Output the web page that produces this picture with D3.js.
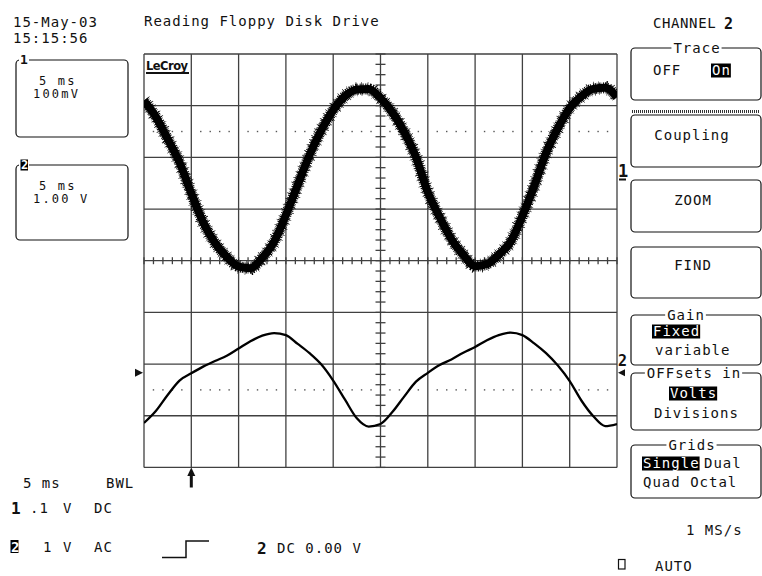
<!DOCTYPE html>
<html><head><meta charset="utf-8">
<script src="https://cdn.jsdelivr.net/npm/d3@7"></script>
<style>
html,body{margin:0;padding:0;background:#fff;}
svg{display:block;}
text{font-family:"DejaVu Sans Mono",monospace;font-size:14px;fill:#111;letter-spacing:1px;}
</style></head><body>
<svg id="scope" width="762" height="576"></svg>
<script>
// ---- acquisition: sample times (ms) and channel voltages (V) ----
const timesMs = [0,1.25,2.5,3.75,5,6.25,7.5,8.75,10,11.25,12.5,13.75,15,16.25,17.5,18.75,20,21.25,22.5,23.75,25,
  26.25,27.5,28.75,30,31.25,32.5,33.75,35,36.25,37.5,38.75,40,41.25,42.5,43.75,45,46.25,47.5,48.75,50];
const ch1Volts = [0.152,0.121,0.078,0.033,-0.027,-0.083,-0.123,-0.150,-0.169,-0.172,-0.152,-0.121,-0.069,-0.011,
  0.047,0.095,0.134,0.161,0.174,0.175,0.157,0.130,0.092,0.043,-0.025,-0.073,-0.116,-0.146,-0.168,-0.164,-0.146,
  -0.121,-0.071,-0.013,0.051,0.099,0.138,0.161,0.175,0.177,0.159];
const ch2Volts = [-0.97,-0.74,-0.43,-0.15,-0.01,0.12,0.23,0.33,0.47,0.61,0.72,0.77,0.73,0.56,0.38,0.16,-0.15,
  -0.52,-0.88,-1.04,-0.99,-0.76,-0.46,-0.17,0.00,0.15,0.26,0.39,0.50,0.63,0.73,0.78,0.73,0.57,0.38,0.14,-0.16,
  -0.54,-0.84,-1.03,-0.99];

// channel settings: volts per division and ground position in divisions from centre
const ch1VPerDiv = 0.1, ch1GroundDiv = 1.575;
const ch2VPerDiv = 1.0, ch2GroundDiv = -2.17;
const timePerDivMs = 5;
const hDivs = [0,1,2,3,4,5,6,7,8,9,10];
const vDivs = [-4,-3,-2,-1,0,1,2,3,4];
const cursorDivs = [2.5,-2.5];
const triggerTimeMs = 5;

// ---- screen texts ----
const dateLines = ["15-May-03","15:15:56"];
const titleText = "Reading Floppy Disk Drive";
const menuTitle = "CHANNEL";
const menuChannel = "2";

const svg = d3.select("#scope");
const ink = "#111";
const gridInk = "#404040";
const plot = {left:144, right:617, top:54, bottom:467.4};

const x = d3.scaleLinear().domain([0, 10*timePerDivMs]).range([plot.left, plot.right]);
const div = d3.scaleLinear().domain([-4, 4]).range([plot.bottom, plot.top]);
const y1 = d3.scaleLinear().domain([(-4-ch1GroundDiv)*ch1VPerDiv, (4-ch1GroundDiv)*ch1VPerDiv]).range([plot.bottom, plot.top]);
const y2 = d3.scaleLinear().domain([(-4-ch2GroundDiv)*ch2VPerDiv, (4-ch2GroundDiv)*ch2VPerDiv]).range([plot.bottom, plot.top]);

// ---- graticule ----
const grid = svg.append("g");
grid.selectAll("line.v").data(hDivs).join("line").attr("class","v")
  .attr("x1", d => x(d*timePerDivMs)).attr("x2", d => x(d*timePerDivMs))
  .attr("y1", plot.top).attr("y2", plot.bottom)
  .attr("stroke", gridInk).attr("stroke-width", 1.3);
grid.selectAll("line.h").data(vDivs).join("line").attr("class","h")
  .attr("x1", plot.left).attr("x2", plot.right)
  .attr("y1", d => div(d)).attr("y2", d => div(d))
  .attr("stroke", gridInk).attr("stroke-width", 1.3);

// minor ticks along the centre cross
const minorT = x.ticks(50);
grid.selectAll("line.tx").data(minorT).join("line").attr("class","tx")
  .attr("x1", d => x(d)).attr("x2", d => x(d))
  .attr("y1", div(0)-3.5).attr("y2", div(0)+3.5)
  .attr("stroke", gridInk).attr("stroke-width", 1.3);
const minorD = div.ticks(40);
grid.selectAll("line.ty").data(minorD).join("line").attr("class","ty")
  .attr("x1", x(25)-5).attr("x2", x(25)+5)
  .attr("y1", d => div(d)).attr("y2", d => div(d))
  .attr("stroke", gridInk).attr("stroke-width", 1.3);

// dotted cursor lines
const dotT = minorT.filter(t => t % timePerDivMs !== 0);
cursorDivs.forEach(cd => {
  grid.append("g").selectAll("rect").data(dotT).join("rect")
    .attr("x", d => x(d)-0.7).attr("y", div(cd)-0.7)
    .attr("width", 1.4).attr("height", 1.4).attr("fill", "#555");
});

// ---- traces ----
svg.append("clipPath").attr("id","screen").append("rect")
  .attr("x", plot.left).attr("y", plot.top-12)
  .attr("width", plot.right-plot.left).attr("height", plot.bottom-plot.top+12);
const traces = svg.append("g").attr("clip-path","url(#screen)");

const line1 = d3.line().x((d,i) => x(timesMs[i])).y(d => y1(d)).curve(d3.curveMonotoneX);
const line2 = d3.line().x((d,i) => x(timesMs[i])).y(d => y2(d)).curve(d3.curveMonotoneX);

// channel 1: noisy trace drawn as a solid core with a ragged noise fringe
const path1 = line1(ch1Volts);
traces.append("path").attr("d", path1).attr("fill","none")
  .attr("stroke","#000").attr("stroke-width", 14)
  .attr("stroke-dasharray","0.5 5.1 0.6 3.7 0.4 6.8 0.7 4.4 0.5 5.9");
traces.append("path").attr("d", path1).attr("fill","none")
  .attr("stroke","#000").attr("stroke-width", 11)
  .attr("stroke-dasharray","0.9 0.8 0.6 1.2 1.1 0.7 0.7 1.5 1.0 0.9");
traces.append("path").attr("d", path1).attr("fill","none")
  .attr("stroke","#000").attr("stroke-width", 8).attr("stroke-linejoin","round");

// channel 2
traces.append("path").attr("d", line2(ch2Volts)).attr("fill","none")
  .attr("stroke","#000").attr("stroke-width", 2.3).attr("stroke-linejoin","round");

// ---- logo ----
svg.append("text").attr("x",146).attr("y",70)
  .style("font-family","DejaVu Sans").style("font-weight","bold").style("font-size","11.5px")
  .style("letter-spacing","0px").attr("textLength",42).text("LeCroy");
svg.append("rect").attr("x",146).attr("y",72).attr("width",43).attr("height",2).attr("fill",ink);

// ---- trace markers around the grid ----
svg.append("text").attr("x",618).attr("y",177).style("font-size","17px").style("font-weight","bold")
  .style("letter-spacing","0px").text("1");
svg.append("rect").attr("x",619).attr("y",178.5).attr("width",7).attr("height",2).attr("fill",ink);
svg.append("text").attr("x",618).attr("y",366).style("font-size","15px").style("font-weight","bold")
  .style("letter-spacing","0px").text("2");
svg.append("path").attr("d",`M618,${y2(0)} L625,${y2(0)-3.5} L625,${y2(0)+3.5} Z`).attr("fill",ink);
svg.append("path").attr("d",`M143,${y2(0)} L135,${y2(0)-4} L135,${y2(0)+4} Z`).attr("fill",ink);
// trigger position arrow
const tx = x(triggerTimeMs);
svg.append("rect").attr("x",tx-1.5).attr("y",474).attr("width",3).attr("height",13.5).attr("fill",ink);
svg.append("path").attr("d",`M${tx},467.5 L${tx-4},476 L${tx+4},476 Z`).attr("fill",ink);

// ---- header texts ----
svg.append("text").attr("x",13).attr("y",27).text(dateLines[0]);
svg.append("text").attr("x",13).attr("y",43).text(dateLines[1]);
svg.append("text").attr("x",144).attr("y",26).text(titleText);
svg.append("text").attr("x",653).attr("y",28).style("letter-spacing","0.6px").text(menuTitle);
svg.append("text").attr("x",724).attr("y",29).style("font-weight","bold").style("font-size","15px").text(menuChannel);

// ---- helpers ----
function frame(x0,y0,w,h){
  svg.append("rect").attr("x",x0).attr("y",y0).attr("width",w).attr("height",h)
    .attr("rx",4).attr("fill","none").attr("stroke",ink).attr("stroke-width",1.2);
}
function legend(label,cx,yLine){
  const t = svg.append("text").attr("x",cx).attr("y",yLine+5).attr("text-anchor","middle").text(label);
  const b = t.node().getBBox();
  svg.insert("rect", () => t.node()).attr("x",b.x-2).attr("y",yLine-3).attr("width",b.width+3).attr("height",6).attr("fill","#fff");
}
function label(str,x0,yb,opts={}){
  const t = svg.append("text").attr("x",x0).attr("y",yb).text(str);
  if (opts.anchor) t.attr("text-anchor",opts.anchor);
  if (opts.bold) t.style("font-weight","bold");
  if (opts.size) t.style("font-size",opts.size);
  if (opts.spacing) t.style("letter-spacing",opts.spacing);
  if (opts.inverse){
    const b = t.node().getBBox();
    svg.insert("rect", () => t.node()).attr("x",b.x-1).attr("y",yb-11.5).attr("width",b.width+1).attr("height",14).attr("fill","#000");
    t.style("fill","#fff");
  }
  return t;
}

// ---- channel summary boxes (left) ----
const leftBoxes = [
  {y:60, h:77, id:"1", lines:["5 ms","100mV"], inv:false},
  {y:165, h:75, id:"2", lines:["5 ms","1.00 V"], inv:true}
];
leftBoxes.forEach(bx => {
  frame(16, bx.y, 112, bx.h);
  svg.append("rect").attr("x",19).attr("y",bx.y-5).attr("width",10).attr("height",10).attr("fill","#fff");
  if (bx.inv){
    svg.append("rect").attr("x",20.5).attr("y",bx.y-5.5).attr("width",7.5).attr("height",11).attr("fill","#000");
    svg.append("text").attr("x",21).attr("y",bx.y+4).style("font-size","12px").style("font-weight","bold")
      .style("letter-spacing","0px").style("fill","#fff").text(bx.id);
  } else {
    svg.append("text").attr("x",20).attr("y",bx.y+4).style("font-size","13px").style("font-weight","bold")
      .style("letter-spacing","0px").text(bx.id);
  }
  label(bx.lines[0], 39, bx.y+24.5, {size:"12px", spacing:"2.2px"});
  label(bx.lines[1], 33, bx.y+38, {size:"12px", spacing:"2.2px"});
});

// ---- menu column (right) ----
const bxX = 631, bxW = 130;
// Trace
frame(bxX,48,bxW,52); legend("Trace",697,48);
label("OFF",653,75); label("On",712,75,{inverse:true});
// hatched separator
svg.append("line").attr("x1",bxX+1).attr("x2",bxX+bxW-1).attr("y1",111.5).attr("y2",111.5)
  .attr("stroke","#333").attr("stroke-width",3).attr("stroke-dasharray","1 1");
// Coupling / ZOOM / FIND
frame(bxX,115,bxW,52); label("Coupling",692,140,{anchor:"middle"});
frame(bxX,180,bxW,52); label("ZOOM",693,205,{anchor:"middle"});
frame(bxX,247,bxW,51); label("FIND",693,270,{anchor:"middle"});
// Gain
frame(bxX,315,bxW,50); legend("Gain",686,315);
label("Fixed",653,336,{inverse:true}); label("variable",655,355);
// Offsets
frame(bxX,373,bxW,57); legend("OFFsets in",694,373);
label("Volts",670,398,{inverse:true}); label("Divisions",654,418);
// Grids
frame(bxX,445,bxW,53); legend("Grids",692,445);
label("Single",643,468,{inverse:true}); label("Dual",704,468); label("Quad Octal",643,487);

// ---- bottom status ----
label("5 ms",23,488); label("BWL",106,488);
label("1",11,514,{bold:true,size:"16px"}); label(".1",30,513); label("V",63,513); label("DC",94,513);
svg.append("rect").attr("x",10.5).attr("y",540).attr("width",8).attr("height",13).attr("fill","#000");
svg.append("text").attr("x",11).attr("y",552).style("font-size","14px").style("font-weight","bold")
  .style("letter-spacing","0px").style("fill","#fff").text("2");
label("1",43,552); label("V",63,552); label("AC",94,552);
svg.append("path").attr("d","M162,557.5 H186 V541 H209").attr("fill","none").attr("stroke",ink).attr("stroke-width",1.5);
label("2",257,554,{bold:true,size:"16px"}); label("DC 0.00 V",277,553);
label("1 MS/s",686,535);
svg.append("rect").attr("x",618.5).attr("y",559.5).attr("width",6.5).attr("height",9.5).attr("fill","none").attr("stroke",ink).attr("stroke-width",1.2);
label("AUTO",655,571);
</script>
</body></html>
